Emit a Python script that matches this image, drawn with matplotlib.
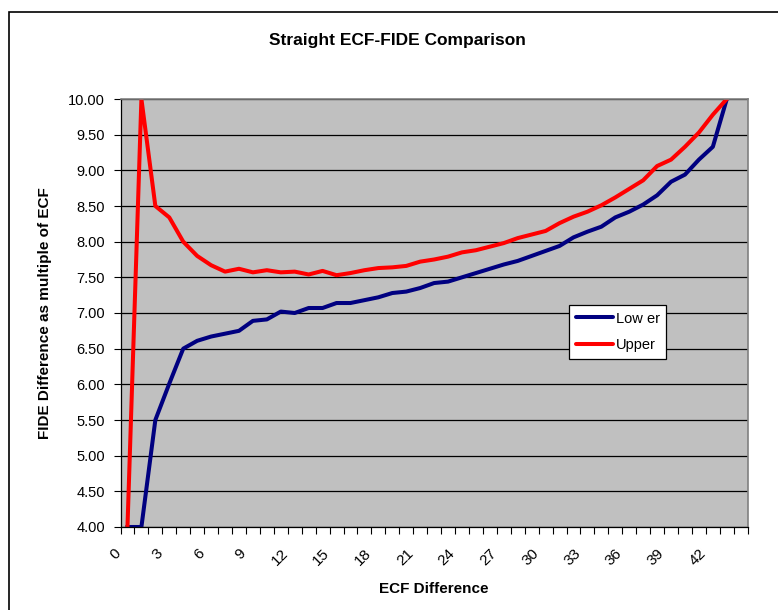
import matplotlib.pyplot as plt
from matplotlib.patches import Rectangle
from matplotlib.ticker import FixedLocator

plt.rcParams['font.family'] = ['Liberation Sans', 'DejaVu Sans']

# ECF difference categories (0..44), data stops at 43
ecf_diff = [0, 1, 2, 3, 4, 5, 6, 7, 8, 9, 10, 11, 12, 13, 14, 15, 16, 17, 18, 19, 20, 21,
            22, 23, 24, 25, 26, 27, 28, 29, 30, 31, 32, 33, 34, 35, 36, 37, 38, 39, 40, 41,
            42, 43]
n_categories = 45
x_labels = ['0', '3', '6', '9', '12', '15', '18', '21', '24', '27', '30', '33', '36', '39', '42']
x_label_pos = [0, 3, 6, 9, 12, 15, 18, 21, 24, 27, 30, 33, 36, 39, 42]

lower = [4.00, 4.00, 5.50, 6.01, 6.50, 6.61, 6.67, 6.71, 6.75, 6.89, 6.91, 7.02, 7.00, 7.07,
         7.07, 7.14, 7.14, 7.18, 7.22, 7.28, 7.30, 7.35, 7.42, 7.44, 7.50, 7.56, 7.62, 7.68,
         7.73, 7.80, 7.87, 7.94, 8.06, 8.14, 8.21, 8.34, 8.42, 8.52, 8.65, 8.84, 8.94, 9.15,
         9.33, 10.00]
upper = [4.00, 10.00, 8.50, 8.34, 8.00, 7.80, 7.67, 7.58, 7.62, 7.57, 7.60, 7.57, 7.58, 7.54,
         7.59, 7.53, 7.56, 7.60, 7.63, 7.64, 7.66, 7.72, 7.75, 7.79, 7.85, 7.88, 7.93, 7.98,
         8.05, 8.10, 8.15, 8.26, 8.35, 8.42, 8.51, 8.62, 8.74, 8.86, 9.06, 9.15, 9.33, 9.53,
         9.78, 10.00]

fig = plt.figure(figsize=(7.78, 6.10), dpi=100)
fig.patch.set_facecolor('white')

# outer chart border (runs off the right and bottom edge)
fig.patches.append(Rectangle((9 / 778, -0.1), 1.0, 1 - 12 / 610 + 0.1,
                             transform=fig.transFigure, fill=False,
                             edgecolor='black', linewidth=1.2))

ax = fig.add_axes([120.5 / 778, 1 - 527 / 610, 627.2 / 778, 428 / 610])
ax.set_facecolor('#C0C0C0')

ax.plot(ecf_diff, lower, color='#000080', lw=2.9, label='Low er')
ax.plot(ecf_diff, upper, color='#FF0000', lw=2.9, label='Upper')

ax.set_xlim(-0.5, n_categories - 0.5)
ax.set_ylim(4.0, 10.0)

# y axis
yt = [4.0 + 0.5 * i for i in range(13)]
ax.set_yticks(yt)
ax.set_yticklabels(['%.2f' % v for v in yt], fontsize=10.5)
ax.yaxis.grid(True, color='black', lw=0.9)
ax.set_axisbelow(True)
ax.tick_params(axis='y', direction='out', length=5, width=0.8, pad=6)

# x axis: rotated labels sit just left of their category, tick marks at boundaries
ax.xaxis.set_major_locator(FixedLocator([p - 0.3 for p in x_label_pos]))
ax.set_xticklabels(x_labels, rotation=45, ha='right', va='top', fontsize=11)
ax.xaxis.set_minor_locator(FixedLocator([i - 0.5 for i in range(n_categories + 1)]))
ax.tick_params(axis='x', which='major', length=0, pad=14)
ax.tick_params(axis='x', which='minor', direction='out', length=5, width=0.8)

for side in ['top', 'right']:
    ax.spines[side].set_color('#808080')
    ax.spines[side].set_linewidth(1.2)
for side in ['left', 'bottom']:
    ax.spines[side].set_color('black')
    ax.spines[side].set_linewidth(0.9)

ax.set_xlabel('ECF Difference', fontsize=11, fontweight='bold', labelpad=10)
ax.set_ylabel('FIDE Difference as multiple of ECF', fontsize=11, fontweight='bold', labelpad=12)
fig.text(397 / 778, 1 - 40 / 610, 'Straight ECF-FIDE Comparison', fontsize=12.5,
         fontweight='bold', ha='center', va='center')

leg = ax.legend(loc='upper left', bbox_to_anchor=((569 - 120.5) / 627.2, (527 - 305) / 428),
                fontsize=10.5, frameon=True, fancybox=False, framealpha=1,
                edgecolor='black', handlelength=2.6, handletextpad=0.15,
                borderpad=0.45, labelspacing=0.85, borderaxespad=0)
leg.get_frame().set_linewidth(0.9)
for h in leg.get_lines():
    h.set_solid_capstyle('round')

fig.savefig('out.png', dpi=100, facecolor='white')
